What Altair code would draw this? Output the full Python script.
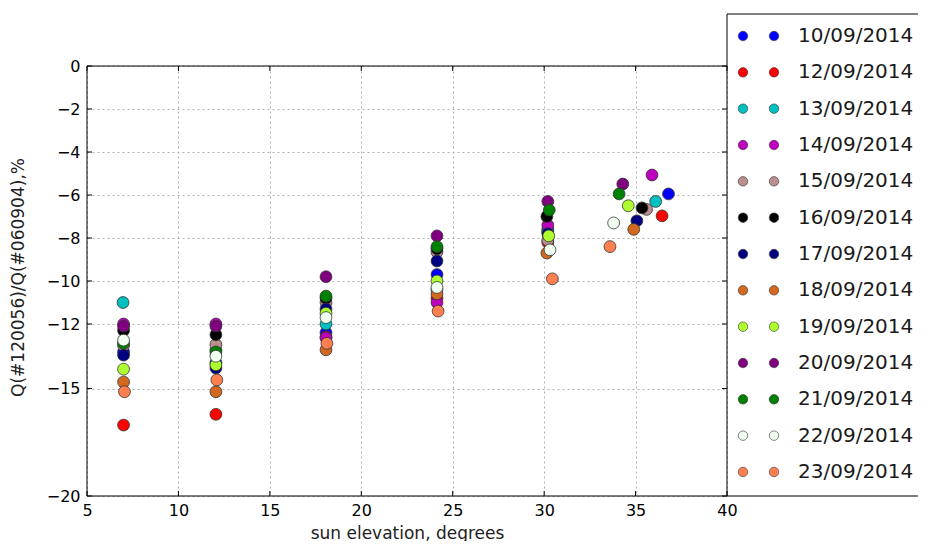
import altair as alt
import pandas as pd

# ---- data ----
dates = ["10/09/2014", "12/09/2014", "13/09/2014", "14/09/2014", "15/09/2014",
         "16/09/2014", "17/09/2014", "18/09/2014", "19/09/2014", "20/09/2014",
         "21/09/2014", "22/09/2014", "23/09/2014"]
colors = ["#0000ff", "#ff0000", "#00bfbf", "#bf00bf", "#bc8f8f", "#000000",
          "#000080", "#d2691e", "#adff2f", "#800080", "#008000", "#f0fff0", "#ff7f50"]

# sun elevation (degrees), one row per date
sun_elevation = [
    [7.0, 12.05, 18.07, 24.14, 30.2, 36.8],
    [7.0, 12.05, 18.07, 24.14, 30.2, 36.45],
    [6.97, 12.05, 18.07, 24.14, 30.2, 36.1],
    [7.0, 12.05, 18.07, 24.14, 30.2, 35.9],
    [7.0, 12.05, 18.07, 24.14, 30.2, 35.6],
    [7.0, 12.05, 18.07, 24.14, 30.15, 35.35],
    [7.0, 12.05, 18.07, 24.14, 30.2, 35.07],
    [7.0, 12.05, 18.07, 24.14, 30.15, 34.9],
    [7.0, 12.05, 18.07, 24.14, 30.25, 34.6],
    [7.0, 12.05, 18.07, 24.14, 30.2, 34.3],
    [7.0, 12.05, 18.07, 24.14, 30.28, 34.1],
    [7.0, 12.05, 18.07, 24.14, 30.32, 33.8],
    [7.05, 12.1, 18.12, 24.2, 30.45, 33.6],
]
# Q(#120056)/Q(#060904), %
ratio = [
    [-13.3, -13.8, -12.4, -9.7, -7.6, -5.95],
    [-16.7, -16.2, -12.6, -10.8, -8.2, -6.97],
    [-11.0, -13.2, -12.0, -10.4, -7.7, -6.3],
    [-12.0, -12.0, -12.65, -11.0, -7.4, -5.07],
    [-13.0, -12.95, -11.0, -8.65, -8.1, -6.67],
    [-12.3, -12.5, -10.8, -8.5, -7.0, -6.6],
    [-13.45, -14.05, -11.3, -9.07, -7.8, -7.2],
    [-14.7, -15.15, -13.2, -10.6, -8.7, -7.6],
    [-14.1, -13.9, -11.5, -10.0, -7.9, -6.5],
    [-12.1, -12.1, -9.8, -7.9, -6.3, -5.49],
    [-12.9, -13.3, -10.7, -8.4, -6.7, -5.95],
    [-12.75, -13.5, -11.7, -10.3, -8.55, -7.3],
    [-15.15, -14.6, -12.9, -11.4, -9.9, -8.4],
]
x_ticks = [5, 10, 15, 20, 25, 30, 35, 40]
y_ticks = [0, -2, -4, -6, -8, -10, -12, -15, -20]

rows = []
for d, xs, ys in zip(dates, sun_elevation, ratio):
    for xv, yv in zip(xs, ys):
        rows.append({"date": d, "elev": xv, "q": yv})
df = pd.DataFrame(rows)

W, H = 640, 430
FONT = "DejaVu Sans"
xscale = alt.Scale(domain=[5, 40], nice=False, zero=False)
yscale = alt.Scale(domain=[-20, 0], nice=False, zero=False)
color = alt.Color("date:N", scale=alt.Scale(domain=dates, range=colors), legend=None)

x_axis = alt.Axis(values=x_ticks, title="sun elevation, degrees", labelPadding=6, labelFlush=False,
                  titleX=W / 2, titleY=37, titleBaseline="middle")

points = alt.Chart(df).mark_circle(size=140, opacity=1, stroke="#333333", strokeWidth=0.8).encode(
    x=alt.X("elev:Q", scale=xscale, axis=x_axis),
    y=alt.Y("q:Q", scale=yscale,
            axis=alt.Axis(values=y_ticks, format="d", title="Q(#120056)/Q(#060904),%",
                          labelPadding=7, labelFlush=False,
                          titleX=-69, titleY=211, titleBaseline="middle")),
    color=color,
)

xt = pd.DataFrame({"elev": x_ticks})
yt = pd.DataFrame({"t": y_ticks})
tick_bottom = alt.Chart(xt).mark_rule(color="black").encode(
    x=alt.X("elev:Q", scale=xscale, axis=x_axis), y=alt.value(H), y2=alt.value(H - 5))
tick_top = alt.Chart(xt).mark_rule(color="black").encode(
    x=alt.X("elev:Q", scale=xscale, axis=x_axis), y=alt.value(0), y2=alt.value(5))
tick_left = alt.Chart(yt).mark_rule(color="black").encode(
    y=alt.Y("t:Q", scale=yscale, axis=None), x=alt.value(0), x2=alt.value(5))
tick_right = alt.Chart(yt).mark_rule(color="black").encode(
    y=alt.Y("t:Q", scale=yscale, axis=None), x=alt.value(W), x2=alt.value(W - 5))

# ---- plot frame and legend box ----
one = pd.DataFrame({"a": [0]})
def hline(y, x1, x2):
    return alt.Chart(one).mark_rule(color="black", strokeWidth=1).encode(
        x=alt.value(x1), x2=alt.value(x2), y=alt.value(y))
def vline(x, y1, y2):
    return alt.Chart(one).mark_rule(color="black", strokeWidth=1).encode(
        x=alt.value(x), y=alt.value(y1), y2=alt.value(y2))

frame = [hline(0, 0, W), hline(H, 0, W + 200), vline(0, 0, H), vline(W, -52, H),
         hline(-52, W, W + 200)]

# ---- legend (two markers per entry) ----
leg = pd.DataFrame({"date": dates})
ly = alt.Y("date:N", scale=alt.Scale(type="point", domain=dates, range=[-30, 406], padding=0), axis=None)
leg_sym1 = alt.Chart(leg).mark_circle(size=90, opacity=1, stroke="#333333", strokeWidth=0.6).encode(
    x=alt.value(656), y=ly, color=color)
leg_sym2 = alt.Chart(leg).mark_circle(size=90, opacity=1, stroke="#333333", strokeWidth=0.6).encode(
    x=alt.value(687), y=ly, color=color)
leg_text = alt.Chart(leg).mark_text(align="left", baseline="middle", fontSize=20, font=FONT,
                                     color="#1a1a1a").encode(x=alt.value(711), y=ly, text="date:N")

chart = alt.layer(
    points, tick_bottom, tick_top, tick_left, tick_right, *frame,
    leg_sym1, leg_sym2, leg_text,
).resolve_scale(y="independent").properties(
    width=W, height=H,
    autosize=alt.AutoSizeParams(type="none"),
    padding={"left": 79, "top": 58, "right": 191, "bottom": 45},
).configure_view(
    strokeWidth=0
).configure_axis(
    labelFont=FONT, labelFontSize=16, labelColor="black",
    titleFont=FONT, titleFontSize=17, titleFontWeight="normal", titleColor="#222222",
    grid=True, gridColor="#b0b0b0", gridDash=[2, 3], gridWidth=1,
    domain=False, ticks=False, tickSize=0,
)

chart.save("out.html", embed_options={"renderer": "svg", "actions": False})
